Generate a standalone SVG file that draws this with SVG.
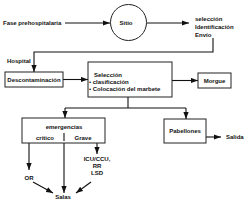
<svg xmlns="http://www.w3.org/2000/svg" width="251" height="201" viewBox="0 0 251 201">
<style>
text{font-family:"Liberation Sans",Arial,sans-serif;font-size:6px;font-weight:bold;fill:#111}
.c{text-anchor:middle}
.box{fill:#fff;stroke:#222;stroke-width:1}
.ln{fill:none;stroke:#111;stroke-width:1.1}
.ar{marker-end:url(#ah)}
</style>
<defs>
<marker id="ah" markerUnits="userSpaceOnUse" markerWidth="8" markerHeight="6" refX="7" refY="3" orient="auto">
<path d="M0,0.4 L7,3 L0,5.6 Z" fill="#111"/>
</marker>
</defs>
<rect width="251" height="201" fill="#fff"/>
<g id="connectors">
<path class="ln ar" d="M65,23 H110"/>
<path class="ln ar" d="M147,23 H189"/>
<path class="ln ar" d="M213,38 V52 H34 V72"/>
<path class="ln ar" d="M63,79.5 H88"/>
<path class="ln ar" d="M172,80.5 H198"/>
<path class="ln" d="M128,97 V108 M65,108 H186"/>
<path class="ln ar" d="M65,108 V118"/>
<path class="ln ar" d="M186,108 V119"/>
<path class="ln ar" d="M206,137 H221"/>
<path class="ln ar" d="M29,143 V170"/>
<path class="ln ar" d="M64,143 V193"/>
<path class="ln ar" d="M97,143 V154"/>
<path class="ln ar" d="M33,182 L53,193"/>
<path class="ln ar" d="M91,182 L76,193"/>
</g>
<g id="fase"><text x="3" y="25">Fase prehospitalaria</text></g>
<g id="sitio"><circle cx="128.5" cy="22.5" r="18" fill="#fff" stroke="#222" stroke-width="1"/><text class="c" x="126" y="25">Sitio</text></g>
<g id="seleccion-envio"><text x="195" y="21">selección</text><text x="195" y="29">Identificación</text><text x="195" y="37">Envío</text></g>
<g id="hospital"><text x="7" y="63">Hospital</text></g>
<g id="descontaminacion"><rect class="box" x="5" y="72" width="58" height="15"/><text class="c" x="34" y="82">Descontaminación</text></g>
<g id="seleccion"><rect class="box" x="88" y="62" width="84" height="35"/><text x="94" y="77">Selección</text><text x="89" y="84">• clasificación</text><text x="89" y="91">• Colocación del marbete</text></g>
<g id="morgue"><rect class="box" x="198" y="73" width="33" height="15"/><text class="c" x="214.5" y="83">Morgue</text></g>
<g id="emergencias"><rect class="box" x="22" y="118" width="83" height="25"/><text class="c" x="64" y="129">emergencias</text><path class="ln" d="M64,133 V141"/><text class="c" x="45" y="140">crítico</text><text class="c" x="83" y="140">Grave</text></g>
<g id="pabellones"><rect class="box" x="164" y="119" width="42" height="24"/><text class="c" x="185" y="133">Pabellones</text></g>
<g id="salida"><text x="226" y="139">Salida</text></g>
<g id="or"><text class="c" x="29" y="180">OR</text></g>
<g id="icu"><text class="c" x="97" y="161">ICU/CCU,</text><text class="c" x="97" y="168">RR</text><text class="c" x="97" y="175">LSD</text></g>
<g id="salas"><text class="c" x="63" y="199">Salas</text></g>
</svg>
